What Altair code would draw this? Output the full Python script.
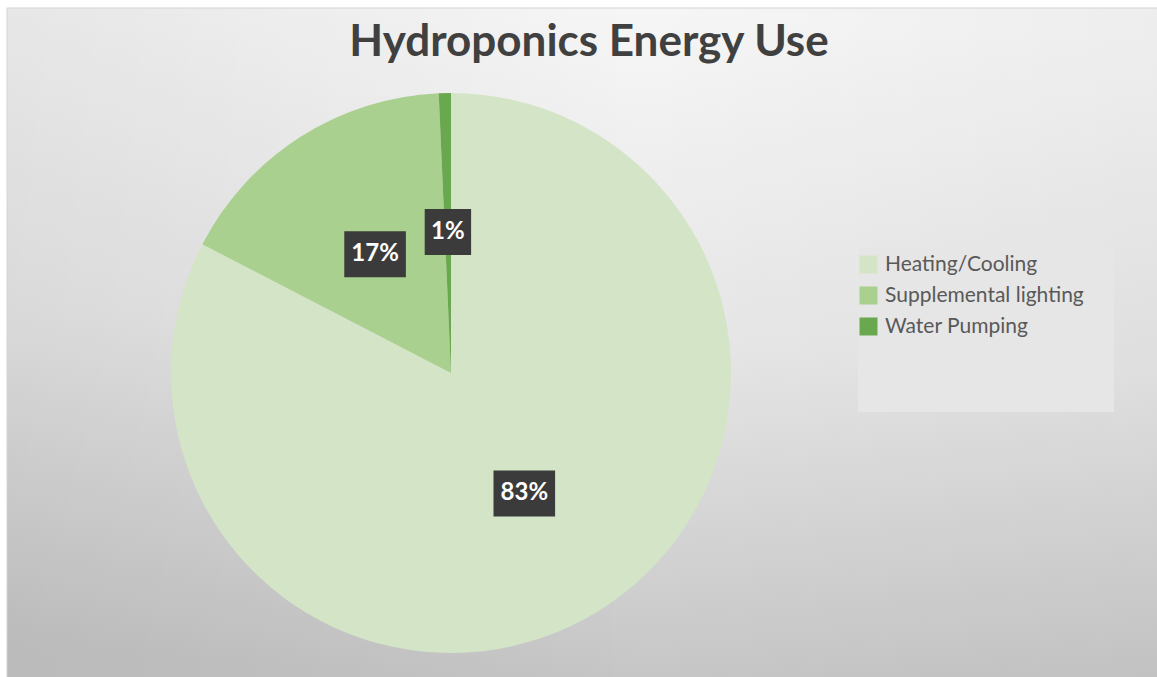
import altair as alt
import pandas as pd

# Energy split of a hydroponic growing setup
categories = ["Heating/Cooling", "Supplemental lighting", "Water Pumping"]
shares = [82.6, 16.7, 0.7]
slice_colors = ["#d3e5c6", "#a9d08e", "#6aa84f"]
order_rank = [0, 1, 2]

title_text = "Hydroponics Energy Use"

W, H = 1157, 677
CX, CY, R = 451, 373, 280
LABEL_R = 141
FONT = "Lato"

df = pd.DataFrame({"category": categories, "share": shares, "rank": order_rank})
one = pd.DataFrame({"k": [0]})

# chart-area backdrop: light at the top, fading to grey at the bottom
backdrop = alt.Chart(one).mark_rect(
    color={
        "gradient": "linear",
        "x1": 0.55, "y1": 0.0, "x2": 0.45, "y2": 1.0,
        "stops": [
            {"offset": 0.0, "color": "#f6f6f6"},
            {"offset": 0.5, "color": "#e6e6e6"},
            {"offset": 1.0, "color": "#c5c5c5"},
        ],
    },
    stroke="#d4d4d4",
    strokeWidth=1,
).encode(x=alt.value(7), x2=alt.value(W + 2), y=alt.value(8), y2=alt.value(H + 2))

# slight darkening toward the left and right edges
side_shade = alt.Chart(one).mark_rect(
    color={
        "gradient": "linear",
        "x1": 0.0, "y1": 0.0, "x2": 1.0, "y2": 0.0,
        "stops": [
            {"offset": 0.0, "color": "rgba(0,0,0,0.055)"},
            {"offset": 0.55, "color": "rgba(0,0,0,0)"},
            {"offset": 1.0, "color": "rgba(0,0,0,0.035)"},
        ],
    },
).encode(x=alt.value(7.5), x2=alt.value(W + 2), y=alt.value(8.5), y2=alt.value(H + 2))

legend_box = alt.Chart(one).mark_rect(color="#e6e6e6").encode(
    x=alt.value(858), x2=alt.value(1114), y=alt.value(248), y2=alt.value(412)
)

title = alt.Chart(one).mark_text(
    text=title_text, font=FONT, fontSize=44, fontWeight="bold",
    color="#404040", align="center", baseline="alphabetic",
).encode(x=alt.value(589), y=alt.value(56))

color = alt.Color(
    "category:N",
    scale=alt.Scale(domain=categories, range=slice_colors),
    legend=alt.Legend(
        title=None, orient="none", legendX=858, legendY=254,
        symbolType="square", symbolSize=324, symbolStrokeWidth=0,
        labelFont=FONT, labelFontSize=21, labelColor="#595959",
        labelOffset=6, rowPadding=9, padding=0, labelLimit=400,
    ),
)

pie = alt.Chart(df).mark_arc(outerRadius=R).encode(
    theta=alt.Theta("share:Q", stack=True),
    color=color,
    order=alt.Order("rank:Q"),
    x=alt.value(CX),
    y=alt.value(CY),
)

# label anchors at the middle angle of each slice
labels = (
    alt.Chart(df)
    .transform_joinaggregate(total="sum(share)")
    .transform_window(cum="sum(share)", sort=[alt.SortField("rank")], frame=[None, 0])
    .transform_calculate(
        ang="2 * PI * (datum.cum - datum.share / 2) / datum.total",
        lx=f"{CX} + {LABEL_R} * sin(datum.ang)",
        ly=f"{CY} - {LABEL_R} * cos(datum.ang)",
        pct="format(datum.share / datum.total, '.0%')",
        hw="8 + 7.6 * length(datum.pct)",
        bx1="datum.lx - datum.hw",
        bx2="datum.lx + datum.hw",
        by1="datum.ly - 23",
        by2="datum.ly + 23",
    )
)

boxes = labels.mark_rect(color="#3b3b3b").encode(
    x=alt.X("bx1:Q", scale=None, axis=None),
    x2="bx2:Q",
    y=alt.Y("by1:Q", scale=None, axis=None),
    y2="by2:Q",
)

texts = labels.mark_text(
    font=FONT, fontSize=24, fontWeight="bold", color="white",
    align="center", baseline="middle",
).encode(
    x=alt.X("lx:Q", scale=None, axis=None),
    y=alt.Y("ly:Q", scale=None, axis=None),
    text="pct:N",
)

chart = (
    alt.layer(backdrop, side_shade, legend_box, title, pie, boxes, texts)
    .properties(width=W, height=H, autosize=alt.AutoSizeParams(type="none"), padding=0, background="white")
    .configure_view(strokeOpacity=0)
)

chart.save("out.html", embed_options={"renderer": "svg", "actions": False})
